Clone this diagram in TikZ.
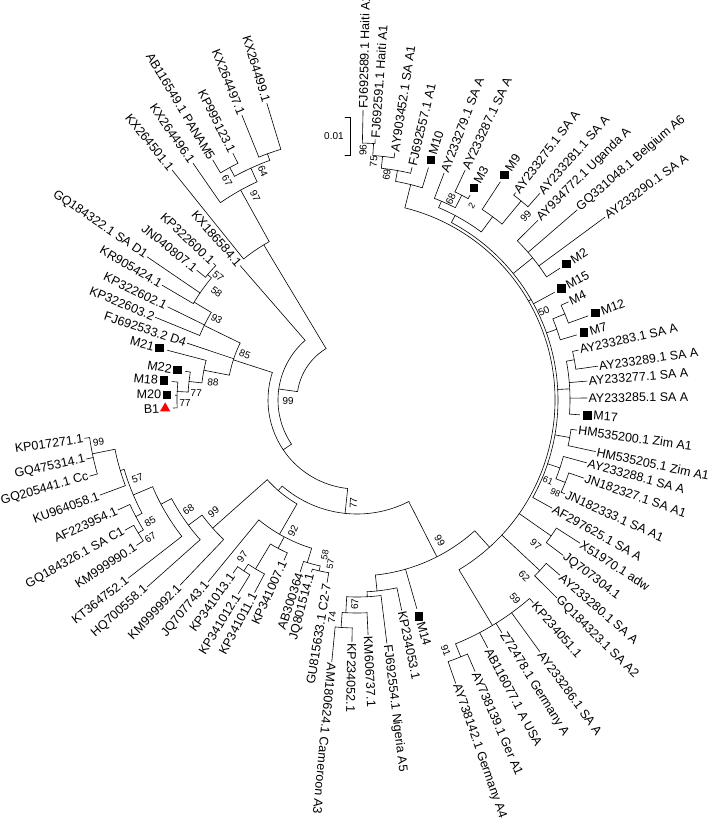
\documentclass[tikz,border=0pt]{standalone}
\usepackage{fontspec}
\setmainfont{Liberation Sans}
\usepackage{tikz}
\usetikzlibrary{shapes.geometric}

% radial branch and arc at a given radius (centre of the circle at the origin)
\newcommand{\radial}[3]{\draw (#1:#2pt) -- (#1:#3pt);}
\newcommand{\arcnode}[3]{\draw (#1:#3pt) arc[start angle=#1, end angle=#2, radius=#3pt];}
% leaf: name, angle, inner radius, tip radius, text
\newcommand{\tipleaf}[5]{%
  \draw (#2:#3pt) -- (#2:#4pt) coordinate (#1);
  \ifdim #2pt>90pt
    \node[leaf, anchor=east, rotate=#2-180] (#1t) at (#1) {#5};
  \else
    \node[leaf, anchor=west, rotate=#2] (#1t) at (#1) {#5};
  \fi}
% leaf with a marker: style, name, angle, inner radius, tip radius, text
\newcommand{\mtipleaf}[6]{%
  \draw (#3:#4pt) -- (#3:#5pt) coordinate (#2);
  \pgfmathsetmacro\rsq{#5+8}\pgfmathsetmacro\rtx{#5+12.5}%
  \node[#1] (#2m) at (#3:\rsq pt) {};
  \ifdim #3pt>90pt
    \node[leaf, anchor=east, rotate=#3-180] (#2t) at (#3:\rtx pt) {#6};
  \else
    \node[leaf, anchor=west, rotate=#3] (#2t) at (#3:\rtx pt) {#6};
  \fi}
% bootstrap value: name, angle, radius, text
\newcommand{\bsv}[4]{%
  \ifdim #2pt>90pt
    \node[boot, rotate=#2-180] (#1) at (#2:#3pt) {#4};
  \else
    \node[boot, rotate=#2] (#1) at (#2:#3pt) {#4};
  \fi}

\begin{document}
\begin{tikzpicture}[line width=0.6pt, line cap=round,
  leaf/.style={font=\fontsize{12.5}{14}\selectfont, inner sep=1.2pt},
  boot/.style={font=\fontsize{10}{12}\selectfont, inner sep=0pt},
  bootsm/.style={font=\fontsize{9}{11}\selectfont, inner sep=0pt},
  sqmark/.style={fill=black, minimum size=8.5pt, inner sep=0pt},
  trimark/.style={regular polygon, regular polygon sides=3, fill=red, minimum size=12pt, inner sep=0pt}]
\useasboundingbox (-357pt,-423pt) rectangle (352pt,400pt);

% root
\arcnode{121}{172}{60}
\radial{172}{60}{79}
\bsv{bY}{181}{69}{99}
\arcnode{131}{214}{79}
\tipleaf{kx186584}{131}{79}{178}{KX186584.1}
\radial{214}{79}{89}
\arcnode{162}{264}{89}

% KX group
\radial{121}{60}{181}
\arcnode{119}{128.8}{181}
\tipleaf{kx264501}{128.8}{181}{295}{KX264501.1}
\radial{119}{181}{240}
\bsv{b97k}{116.5}{228}{97}
\arcnode{114.6}{124.7}{240}
\tipleaf{kx264496}{124.7}{240}{288}{KX264496.1}
\radial{114.6}{240}{255}
\arcnode{110}{118.7}{255}
\radial{110}{255}{262}
\bsv{b64}{112.4}{247}{64}
\arcnode{106.9}{112}{262}
\tipleaf{kx264499}{106.9}{262}{310}{KX264499.1}
\tipleaf{kx264497}{112}{262}{307}{KX264497.1}
\radial{118.7}{255}{265}
\bsv{b67k}{120.6}{255}{67}
\arcnode{116.7}{121}{265}
\tipleaf{kp995123}{116.7}{265}{276}{KP995123.1}
\tipleaf{ab116549}{121}{265}{280}{AB116549.1 PANAM5}

% D group
\radial{162}{89}{130}
\bsv{b85}{158}{121}{85}
\arcnode{154}{169}{130}
\radial{154}{130}{170}
\bsv{b93}{150}{162}{93}
\arcnode{149}{157.7}{170}
\radial{149}{170}{190}
\bsv{b58}{142.5}{177}{58}
\arcnode{140}{149.5}{190}
\radial{140}{190}{195}
\bsv{b57}{138.3}{186}{57}
\arcnode{136.4}{141}{195}
\tipleaf{kp322600}{136.4}{195}{198}{KP322600.1}
\tipleaf{jn040807}{141}{195}{206}{JN040807.1}
\tipleaf{gq184322}{145.7}{190}{254}{GQ184322.1 SA D1}
\tipleaf{kr905424}{149.5}{190}{226}{KR905424.1}
\tipleaf{kp322602}{153.8}{170}{211}{KP322602.1}
\tipleaf{kp322603}{157.7}{170}{218}{KP322603.2}
\tipleaf{fj692533}{161.5}{130}{179}{FJ692533.2 D4}
\radial{169}{130}{156}
\bsv{b88}{173}{145}{88}
\arcnode{165.3}{173.7}{156}
\mtipleaf{sqmark}{m21}{165.3}{156}{196}{M21}
\radial{173.7}{156}{169}
\bsv{b77u}{177.5}{161}{77}
\arcnode{170.5}{177.3}{169}
\mtipleaf{sqmark}{m22}{170.5}{169}{174}{M22}
\radial{177.3}{169}{180}
\bsv{b77l}{181}{172}{77}
\arcnode{174.3}{182.5}{180}
\mtipleaf{sqmark}{m18}{174.3}{180}{186}{M18}
\mtipleaf{sqmark}{m20}{178.5}{180}{182}{M20}
\mtipleaf{trimark}{b1}{182.5}{180}{184}{B1}

% C group
\radial{264}{89}{114}
\bsv{b77}{268}{103}{77}
\arcnode{229}{297}{114}
\radial{229}{114}{120}
\arcnode{221.6}{240}{120}
\radial{221.6}{120}{193}
\bsv{b99c2}{218}{182}{99}
\arcnode{216.6}{226.3}{193}
\radial{216.6}{193}{210}
\bsv{b68}{213}{201}{68}
\arcnode{208}{221.7}{210}
\radial{208}{210}{222}
\arcnode{203}{217.9}{222}
\radial{203}{222}{243}
\arcnode{196.6}{207.8}{243}
\radial{196.6}{243}{247}
\bsv{b57c}{199.6}{233}{57}
\arcnode{191.5}{200.3}{247}
\radial{191.5}{247}{270}
\bsv{b99c}{189.3}{262}{99}
\arcnode{188}{195.9}{270}
\tipleaf{kp017271}{188}{270}{275}{KP017271.1}
\tipleaf{gq475314}{192.3}{270}{277}{GQ475314.1}
\tipleaf{gq205441}{195.9}{270}{278}{GQ205441.1 Cc}
\tipleaf{ku964058}{200.3}{247}{274}{KU964058.1}
\radial{207.8}{243}{250}
\bsv{b85c}{210.5}{240}{85}
\arcnode{204.7}{211.3}{250}
\tipleaf{af223954}{204.7}{250}{263}{AF223954.1}
\radial{211.3}{250}{256}
\bsv{b67c}{213.6}{248}{67}
\arcnode{209.3}{213.4}{256}
\tipleaf{gq184326}{209.3}{256}{266}{GQ184326.1 SA C1}
\tipleaf{km999990}{213.4}{256}{264}{KM999990.1}
\tipleaf{kt364752}{217.9}{222}{290}{KT364752.1}
\tipleaf{hq700558}{221.7}{210}{281}{HQ700558.1}
\tipleaf{km999992}{226.3}{193}{256}{KM999992.1}
\radial{240}{120}{155}
\bsv{b92}{244}{146}{92}
\arcnode{230.7}{253}{155}
\tipleaf{jq707743}{230.7}{155}{235}{JQ707743.1}
\radial{242}{155}{168}
\arcnode{239}{245.5}{168}
\radial{239}{168}{197}
\arcnode{236.5}{242}{197}
\radial{236.5}{197}{205}
\bsv{b97c}{233.8}{194}{97}
\arcnode{234.4}{238.5}{205}
\tipleaf{kp341013}{234.4}{205}{213}{KP341013.1}
\tipleaf{kp341012}{238.5}{205}{227}{KP341012.1}
\tipleaf{kp341011}{242}{197}{218}{KP341011.1}
\tipleaf{kp341007}{245.5}{168}{176}{KP341007.1}
\radial{253}{155}{170}
\node[bootsm, rotate=78.3] (b58c) at (258.3:158pt) {58};
\node[bootsm, rotate=80.8] (b57cc) at (260.8:166pt) {57};
\arcnode{251.7}{257.5}{170}
\tipleaf{ab300364}{251.7}{170}{181}{AB300364}
\radial{257.5}{170}{175}
\arcnode{255.2}{260.7}{175}
\tipleaf{jq801514}{255.2}{175}{178}{JQ801514.1}
\tipleaf{gu815633}{260.7}{175}{185}{GU815633.1 C2-7}

% A group
\radial{-63}{114}{176}
\bsv{b99b}{-59.5}{163}{99}
\arcnode{-84}{-48}{176}
\radial{-84}{176}{192}
\arcnode{-87}{-78}{192}
\radial{-87}{192}{197}
\arcnode{-93}{-83}{197}
\radial{-93}{197}{213}
\bsv{b67a}{269.4}{204}{67}
\arcnode{-94}{-87.3}{213}
\radial{-94}{213}{228}
\bsv{b74}{263.5}{219}{74}
\arcnode{-95.5}{-91.2}{228}
\tipleaf{am180624}{-95.5}{228}{263}{AM180624.1 Cameroon A3}
\tipleaf{kp234052}{-91.2}{228}{242}{KP234052.1}
\tipleaf{km606737}{-87.3}{213}{235}{KM606737.1}
\tipleaf{fj692554}{-83}{197}{245}{FJ692554.1 Nigeria A5}
\tipleaf{kp234053}{-78}{192}{215}{KP234053.1}
\mtipleaf{sqmark}{m14}{-74}{176}{217}{M14}

\radial{-48}{176}{198}
\arcnode{-59}{76}{198}
\radial{-59}{198}{263}
\arcnode{-68}{-49}{263}
\bsv{b59}{-51.5}{254}{59}
\radial{-68}{263}{277}
\bsv{b91}{-70.5}{266}{91}
\arcnode{-70.8}{-66.5}{277}
\tipleaf{ay738142}{-70.8}{277}{300}{AY738142.1 Germany A4}
\tipleaf{ay738139}{-66.5}{277}{296}{AY738139.1 Ger A1}
\tipleaf{ab116077}{-62.2}{263}{280}{AB116077.1 A USA}
\tipleaf{z72478}{-58.1}{263}{274}{Z72478.1 Germany A}
\tipleaf{ay233286}{-54}{263}{311}{AY233286.1 SA A}
\tipleaf{kp234051}{-49}{263}{269}{KP234051.1}
\radial{-43}{198}{250}
\bsv{b62}{-46.5}{243}{62}
\arcnode{-44.7}{-40.8}{250}
\tipleaf{gq184323}{-44.7}{250}{281}{GQ184323.1 SA A2}
\tipleaf{ay233280}{-40.8}{250}{268}{AY233280.1 SA A}
\radial{-35}{198}{237}
\bsv{b97a}{-39}{230}{97}
\arcnode{-37}{-32.7}{237}
\tipleaf{jq707304}{-37}{237}{258}{JQ707304.1}
\tipleaf{x51970}{-32.7}{237}{265}{X51970.1 adw}

\radial{30}{198}{201}
\arcnode{-29}{62}{201}
\tipleaf{af297625}{-29}{201}{223}{AF297625.1 SA A}
\radial{-18.5}{201}{214}
\node[bootsm, rotate=-23] (b61) at (-23:207.5pt) {61};
\arcnode{-21.6}{-15.3}{214}
\tipleaf{ay233288}{-15.3}{214}{238}{AY233288.1 SA A}
\radial{-21.6}{214}{224}
\node[bootsm, rotate=-25] (b98) at (-25:219pt) {98};
\arcnode{-24.3}{-19}{224}
\tipleaf{jn182327}{-19}{224}{240}{JN182327.1 SA A1}
\tipleaf{jn182333}{-24.3}{224}{228}{JN182333.1 SA A1}
\radial{-10}{201}{216}
\arcnode{-12.2}{-7.8}{216}
\tipleaf{hm535205}{-12.2}{216}{244}{HM535205.1 Zim A1}
\tipleaf{hm535200}{-7.8}{216}{222}{HM535200.1 Zim A1}
\radial{3}{201}{213}
\arcnode{-3.8}{10.5}{213}
\mtipleaf{sqmark}{m17}{-3.8}{213}{223}{M17}
\tipleaf{ay233285}{0.5}{213}{230}{AY233285.1 SA A}
\tipleaf{ay233277}{4.7}{213}{231}{AY233277.1 SA A}
\radial{10.5}{213}{221}
\arcnode{8}{12.7}{221}
\tipleaf{ay233289}{8}{221}{243}{AY233289.1 SA A}
\tipleaf{ay233283}{12.7}{221}{227}{AY233283.1 SA A}
\radial{19.5}{201}{212}
\bsv{b50}{25.5}{207}{50}
\arcnode{16.5}{22.5}{212}
\mtipleaf{sqmark}{m7}{16.5}{212}{229}{M7}
\radial{22.5}{212}{225}
\arcnode{20}{24.9}{225}
\mtipleaf{sqmark}{m12}{20}{225}{246}{M12}
\tipleaf{m4}{24.9}{225}{233}{M4}
\mtipleaf{sqmark}{m15}{28.6}{201}{225}{M15}
\radial{39}{201}{226}
\arcnode{33}{44.8}{226}
\mtipleaf{sqmark}{m2}{33}{226}{242}{M2}
\tipleaf{ay233290}{36.4}{226}{308}{AY233290.1 SA A}
\tipleaf{gq331048}{40.8}{226}{291}{GQ331048.1 Belgium A6}
\tipleaf{ay934772}{44.8}{226}{255}{AY934772.1 Uganda A}

\radial{62}{201}{209}
\arcnode{53.5}{67}{209}
\radial{53.5}{209}{228}
\arcnode{50.5}{56.7}{228}
\mtipleaf{sqmark}{m9}{56.7}{228}{261}{M9}
\radial{50.5}{228}{258}
\bsv{b99a}{47.5}{250}{99}
\arcnode{48.5}{52.6}{258}
\tipleaf{ay233275}{52.6}{258}{261}{AY233275.1 SA A}
\tipleaf{ay233281}{48.5}{258}{276}{AY233281.1 SA A}
\radial{67}{209}{216}
\bsv{b68a}{65}{222}{68}
\arcnode{62.9}{69}{216}
\tipleaf{ay233279}{69}{216}{243}{AY233279.1 SA A}
\radial{62.9}{216}{230}
\node[bootsm, rotate=59.5] (b2) at (59.5:226pt) {2};
\arcnode{61.1}{64.8}{230}
\tipleaf{ay233287}{64.8}{230}{254}{AY233287.1 SA A}
\mtipleaf{sqmark}{m3}{61.1}{230}{234}{M3}

\radial{76}{198}{222}
\arcnode{72.9}{80}{222}
\mtipleaf{sqmark}{m10}{72.9}{222}{243}{M10}
\radial{80}{222}{233}
\bsv{b69}{82.5}{227}{69}
\arcnode{76.7}{84}{233}
\tipleaf{fj692557}{76.7}{233}{239}{FJ692557.1 A1}
\radial{84}{233}{245}
\bsv{b75}{86}{239}{75}
\arcnode{81.3}{86.3}{245}
\tipleaf{ay903452}{81.3}{245}{250}{AY903452.1 SA A1}
\radial{86.3}{245}{257}
\bsv{b96}{88.6}{250}{96}
\arcnode{86}{88.8}{257}
\tipleaf{fj692591}{86}{257}{261}{FJ692591.1 Haiti A1}
\tipleaf{fj692589}{88.8}{257}{290}{FJ692589.1 Haiti A1}

% scale bar
\coordinate (sbtop) at (-7pt,283pt);
\coordinate (sbbot) at (-7pt,245pt);
\draw ([xshift=-5pt]sbtop) -- (sbtop) -- (sbbot) -- ([xshift=-5pt]sbbot);
\node[boot, anchor=east] (sblabel) at (-13pt,264pt) {0.01};
\end{tikzpicture}
\end{document}
